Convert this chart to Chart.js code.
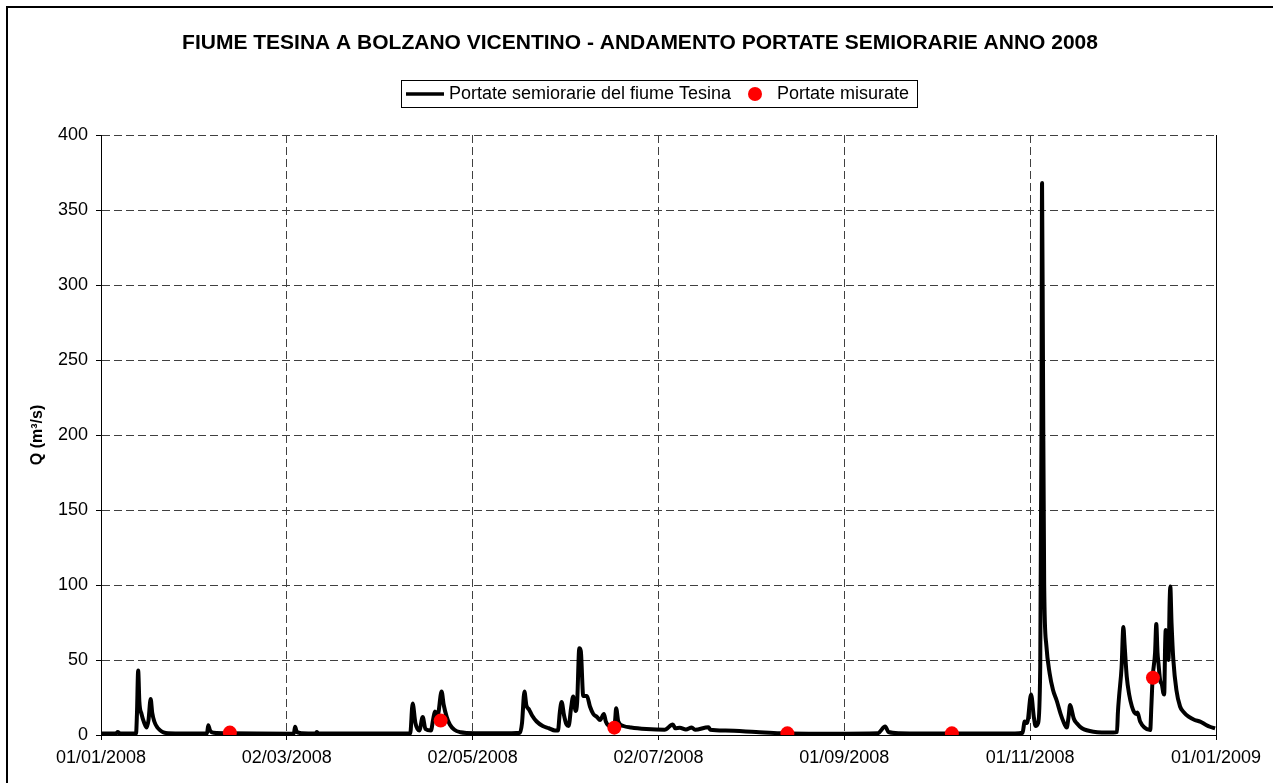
<!DOCTYPE html>
<html lang="it">
<head>
    <meta charset="UTF-8">
    <title>Fiume Tesina a Bolzano Vicentino</title>
    <script src="https://cdn.jsdelivr.net/npm/chart.js"></script>
    <style>
        body { margin: 0; background: #fff; }
        #wrap { width: 1273px; height: 783px; }
    </style>
</head>
<body>
    <div id="wrap"><canvas id="myChart"></canvas></div>

    <script>
        // giorno dell'anno (0 = 01/01/2008) e portata in m3/s
        const flowDays = [
            0, 5, 5.5, 6.2, 11.5, 11.8, 12.2, 12.6, 13.3, 14.2, 15, 15.6, 16.3, 16.8, 17.5, 18.5, 19.5, 20.5, 22,
            34.8, 35.2, 35.8, 37, 42.3, 63.3, 63.7, 64.3, 66, 70.5, 70.8, 71.3,
            101.5, 102.3, 103.2, 104.5, 105.6, 106.5, 108.3, 109, 109.6, 110.5, 111.8, 112.5, 113.5, 114.5, 116, 118, 120,
            134.8, 137.5, 138.2, 139, 139.6, 140.5, 141.5, 143, 145, 147, 149, 150, 150.6, 151.2, 152, 152.8, 153.5,
            154.3, 155, 155.8, 156.3, 157, 157.5, 158.3, 159.5, 160.5, 161.6, 162.8, 163.8, 165.1, 165.7, 167.1,
            168.7, 169.1, 169.8, 171.5, 174, 179, 185, 187.7, 188.5, 190, 192, 193.9, 195, 199.4, 200, 205, 215, 223,
            240, 255, 257.4, 258.5, 262, 280, 300, 302.5, 303.2, 304, 305.3, 306.2, 306.8, 307.6, 308.3, 308.7,
            308.9, 309.2, 309.6, 310.3, 311.4, 312.5, 313.7, 315, 315.9, 317, 317.6, 318.1, 318.6, 319.3, 320.3,
            322, 325.8, 332.3, 333.5, 333.8, 334.2, 335, 335.6, 336, 336.7, 337.5, 338.4, 339.2, 339.8, 340.2,
            341.1, 342.5, 344.4, 344.8, 345.2, 346, 346.4, 346.8, 347.1, 347.7, 348.2, 348.7, 349, 349.3, 349.5,
            349.9, 350.4, 350.8, 351, 351.4, 352, 353, 354.2, 355.5, 357, 359, 360.8, 362.5, 364, 365.7
        ];
        const flowValues = [
            1, 1.2, 2, 1, 1, 14, 43, 22, 14, 8, 5, 10, 24, 15, 9, 5, 3, 1.8, 1.2,
            1, 6.5, 3, 1.5, 1.2, 0.9, 5.5, 2, 1.2, 1, 2, 1.2,
            1, 21, 8, 3, 12, 4, 3, 10, 15.6, 13, 29, 20, 12, 7, 3.5, 1.8, 1.4,
            1.2, 1.5, 8, 29, 20, 17, 13, 9, 6, 4.5, 3, 3, 15, 22, 13, 7, 6,
            18, 25.6, 16, 22, 57.8, 56, 26, 26, 19, 14, 12, 10, 14, 9, 6,
            9, 17.8, 9, 6, 5, 4, 3.5, 7, 4.5, 4.8, 3.6, 5, 3.5, 5.2, 3.5, 3, 2, 1.2,
            0.9, 1.2, 5.6, 2, 1.2, 1, 1, 1.5, 9, 8, 27, 12, 6, 8, 45, 200,
            368, 250, 100, 60, 41, 30, 23, 14, 9, 5, 12, 20, 17, 11, 7.8,
            4.5, 2.2, 1.6, 2, 15, 26, 45, 72, 60, 39, 27, 19, 15, 14, 15,
            9, 5, 3.3, 20, 38, 55, 74, 55, 48, 36, 34, 28, 27, 60, 70,
            55, 50, 90, 99, 75, 50, 30, 19, 15, 12.2, 10, 8.9, 7, 5.5, 4.4
        ];

        // portate misurate
        const measDays = [42.3, 111.5, 168.5, 225.3, 279.3, 345.3];
        const measValues = [1.6, 9.6, 4.9, 1.1, 1.1, 38.2];

        const xTickLabels = ['01/01/2008', '02/03/2008', '02/05/2008', '02/07/2008', '01/09/2008', '01/11/2008', '01/01/2009'];
        const yMax = 400;
        const yStep = 50;
        const xStep = 61;

        const titleText = 'FIUME TESINA A BOLZANO VICENTINO - ANDAMENTO PORTATE SEMIORARIE ANNO 2008';
        const seriesNames = ['Portate semiorarie del fiume Tesina', 'Portate misurate'];

        const FONT = "'Liberation Sans', Arial, sans-serif";

        // cornice, titolo, legenda e bordo destro dell'area del grafico
        const decor = {
            id: 'decor',
            beforeDraw(chart) {
                const ctx = chart.ctx;
                ctx.save();
                ctx.fillStyle = '#fff';
                ctx.fillRect(0, 0, chart.width, chart.height);
                ctx.restore();
            },
            afterDraw(chart) {
                const ctx = chart.ctx;
                const a = chart.chartArea;
                ctx.save();

                // cornice esterna (solo lati sinistro e superiore visibili)
                ctx.strokeStyle = '#000';
                ctx.lineWidth = 2;
                ctx.beginPath();
                ctx.moveTo(7, chart.height + 5);
                ctx.lineTo(7, 7);
                ctx.lineTo(chart.width + 5, 7);
                ctx.stroke();

                // bordo destro area grafico
                ctx.lineWidth = 1;
                ctx.beginPath();
                ctx.moveTo(Math.round(a.right) + 0.5, a.top);
                ctx.lineTo(Math.round(a.right) + 0.5, a.bottom);
                ctx.stroke();

                // titolo
                ctx.fillStyle = '#000';
                ctx.font = 'bold 21px ' + FONT;
                ctx.textAlign = 'center';
                ctx.textBaseline = 'middle';
                ctx.fillText(titleText, 640, 43);

                // legenda
                ctx.strokeStyle = '#000';
                ctx.lineWidth = 1;
                ctx.strokeRect(401.5, 80.5, 516, 27);
                ctx.lineWidth = 3.5;
                ctx.beginPath();
                ctx.moveTo(406, 94);
                ctx.lineTo(444, 94);
                ctx.stroke();
                ctx.font = '18px ' + FONT;
                ctx.textAlign = 'left';
                ctx.fillText(seriesNames[0], 449, 94);
                ctx.fillStyle = '#ff0000';
                ctx.beginPath();
                ctx.arc(755, 94, 7, 0, Math.PI * 2);
                ctx.fill();
                ctx.fillStyle = '#000';
                ctx.fillText(seriesNames[1], 777, 94);

                ctx.restore();
            }
        };

        const flowPoints = flowDays.map((d, i) => ({ x: d, y: flowValues[i] }));
        const measPoints = measDays.map((d, i) => ({ x: d, y: measValues[i] }));

        const ctx = document.getElementById('myChart').getContext('2d');
        const chart = new Chart(ctx, {
            type: 'line',
            data: {
                datasets: [{
                    label: seriesNames[0],
                    data: flowPoints,
                    borderColor: '#000',
                    borderWidth: 4,
                    borderJoinStyle: 'round',
                    pointRadius: 0,
                    cubicInterpolationMode: 'monotone',
                    order: 2
                }, {
                    type: 'scatter',
                    label: seriesNames[1],
                    data: measPoints,
                    backgroundColor: '#ff0000',
                    borderWidth: 0,
                    pointRadius: 7,
                    order: 1
                }]
            },
            options: {
                responsive: true,
                maintainAspectRatio: false,
                animation: false,
                layout: {
                    padding: { top: 135, right: 57, bottom: 0, left: 0 }
                },
                plugins: {
                    legend: { display: false },
                    tooltip: { enabled: false },
                    title: { display: false }
                },
                scales: {
                    x: {
                        type: 'linear',
                        min: 0,
                        max: 366,
                        afterFit: s => { s.height = 48; },
                        grid: {
                            color: '#404040',
                            tickLength: 5,
                            tickColor: '#000',
                            tickBorderDash: []
                        },
                        border: { color: '#000', width: 1, dash: [8, 4] },
                        ticks: {
                            stepSize: xStep,
                            autoSkip: false,
                            maxRotation: 0,
                            padding: 7,
                            color: '#000',
                            font: { family: FONT, size: 18 },
                            callback: v => xTickLabels[Math.round(v / xStep)]
                        }
                    },
                    y: {
                        min: 0,
                        max: yMax,
                        afterFit: s => { s.width = 101; },
                        grid: {
                            color: '#404040',
                            tickLength: 5,
                            tickColor: '#000',
                            tickBorderDash: []
                        },
                        border: { color: '#000', width: 1, dash: [8, 4] },
                        ticks: {
                            stepSize: yStep,
                            padding: 8,
                            color: '#000',
                            font: { family: FONT, size: 18 }
                        },
                        title: {
                            display: true,
                            text: 'Q (m³/s)',
                            color: '#000',
                            font: { family: FONT, size: 16, weight: 'bold' },
                            padding: { top: 28 }
                        }
                    }
                }
            },
            plugins: [decor]
        });
    </script>
</body>
</html>
